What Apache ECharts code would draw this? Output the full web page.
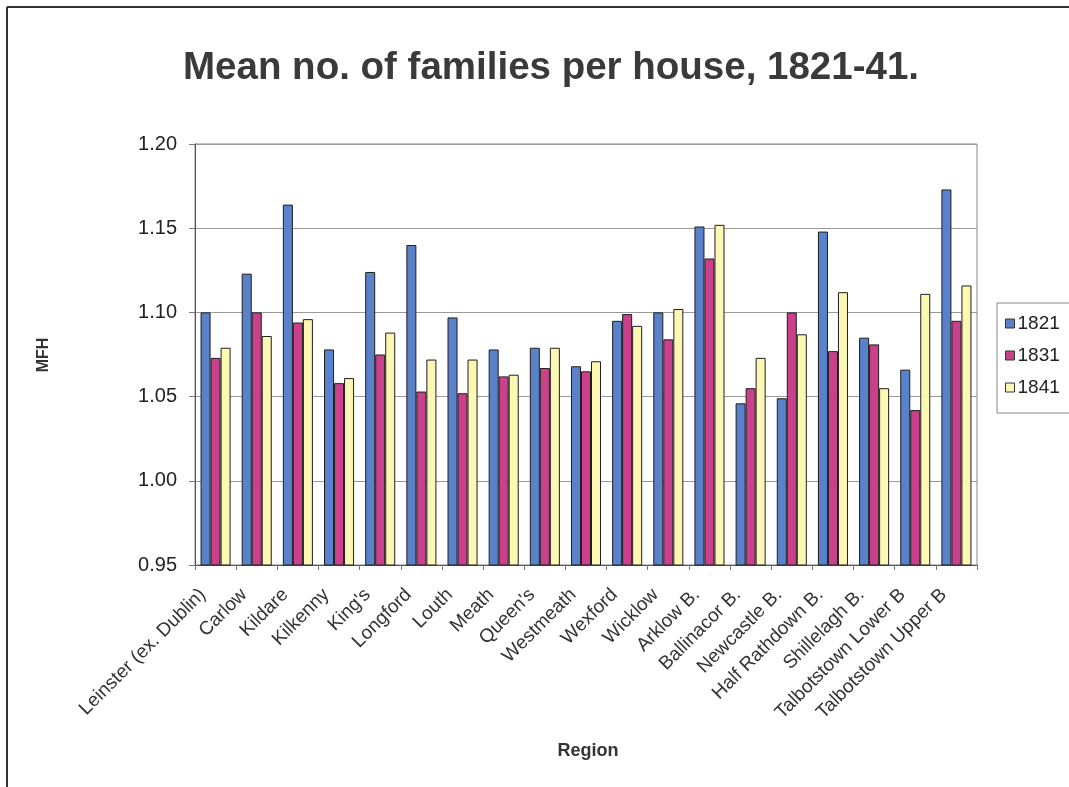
<!DOCTYPE html>
<html>
<head>
<meta charset="utf-8">
<title>Mean no. of families per house, 1821-41</title>
<script src="https://cdn.jsdelivr.net/npm/echarts@6/dist/echarts.min.js"></script>
<style>
  html, body { margin: 0; padding: 0; background: #ffffff; }
  #chart { width: 1069px; height: 787px; }
</style>
</head>
<body>
<div id="chart"></div>
<script>
// Regions of Leinster and the baronies of Co. Wicklow
const categories = [
  "Leinster (ex. Dublin)", "Carlow", "Kildare", "Kilkenny", "King's", "Longford",
  "Louth", "Meath", "Queen's", "Westmeath", "Wexford", "Wicklow", "Arklow B.",
  "Ballinacor B.", "Newcastle B.", "Half Rathdown B.", "Shillelagh B.",
  "Talbotstown Lower B", "Talbotstown Upper B"
];

// Mean number of families per house (MFH) by census year
const mfh1821 = [1.100, 1.123, 1.164, 1.078, 1.124, 1.140, 1.097, 1.078, 1.079, 1.068,
                 1.095, 1.100, 1.151, 1.046, 1.049, 1.148, 1.085, 1.066, 1.173];
const mfh1831 = [1.073, 1.100, 1.094, 1.058, 1.075, 1.053, 1.052, 1.062, 1.067, 1.065,
                 1.099, 1.084, 1.132, 1.055, 1.100, 1.077, 1.081, 1.042, 1.095];
const mfh1841 = [1.079, 1.086, 1.096, 1.061, 1.088, 1.072, 1.072, 1.063, 1.079, 1.071,
                 1.092, 1.102, 1.152, 1.073, 1.087, 1.112, 1.055, 1.111, 1.116];

const seriesNames = ["1821", "1831", "1841"];
const yTicks = { min: 0.95, max: 1.20, step: 0.05 };

const FONT = "'Liberation Sans', Arial, sans-serif";
const colors = ["#5a82ca", "#c8418a", "#fcf7b2"];

const chart = echarts.init(document.getElementById('chart'), null, { renderer: 'canvas' });

function barSeries(name, data, color) {
  return {
    name: name,
    type: 'bar',
    data: data,
    barGap: '0%',
    barCategoryGap: '27%',
    itemStyle: { color: color, borderColor: '#1e1e1e', borderWidth: 1 },
    emphasis: { disabled: true }
  };
}

chart.setOption({
  animation: false,
  backgroundColor: '#ffffff',
  textStyle: { fontFamily: FONT },
  title: {
    text: 'Mean no. of families per house, 1821-41.',
    left: 178,
    top: 44,
    textStyle: { fontFamily: FONT, fontSize: 38.5, fontWeight: 'bold', color: '#3a3a3a' }
  },
  grid: { left: 195, right: 92, top: 144, bottom: 222, show: true, borderColor: '#888', borderWidth: 1 },
  legend: {
    orient: 'vertical',
    left: 1000,
    top: 309,
    itemWidth: 9,
    itemHeight: 9,
    itemGap: 13,
    icon: 'rect',
    itemStyle: { borderColor: '#333', borderWidth: 1 },
    textStyle: { fontFamily: FONT, fontSize: 19, color: '#222', padding: [0, 0, 0, -2] },
    data: seriesNames
  },
  xAxis: {
    type: 'category',
    data: categories,
    boundaryGap: true,
    axisLine: { lineStyle: { color: '#555', width: 1 } },
    axisTick: { show: true, length: 5, alignWithLabel: false, lineStyle: { color: '#777' } },
    axisLabel: {
      interval: 0, rotate: 45, margin: 14, padding: [0, 18, 0, 0],
      fontFamily: FONT, fontSize: 19, color: '#333'
    },
    splitLine: { show: false }
  },
  yAxis: {
    type: 'value',
    min: yTicks.min,
    max: yTicks.max,
    interval: yTicks.step,
    axisLine: { show: true, lineStyle: { color: '#555', width: 1 } },
    axisTick: { show: true, length: 6, lineStyle: { color: '#777' } },
    axisLabel: {
      margin: 18, fontFamily: FONT, fontSize: 20, color: '#222',
      formatter: v => v.toFixed(2)
    },
    splitLine: { show: true, lineStyle: { color: '#9a9a9a', width: 1 } }
  },
  series: [
    barSeries(seriesNames[0], mfh1821, colors[0]),
    barSeries(seriesNames[1], mfh1831, colors[1]),
    barSeries(seriesNames[2], mfh1841, colors[2])
  ],
  graphic: [
    // outer frame: top and left edges
    { type: 'line', shape: { x1: 7, y1: 7, x2: 1069, y2: 7 }, style: { stroke: '#333', lineWidth: 2 } },
    { type: 'line', shape: { x1: 7, y1: 7, x2: 7, y2: 787 }, style: { stroke: '#333', lineWidth: 2 } },
    // legend box
    { type: 'rect', shape: { x: 997, y: 303, width: 80, height: 110 },
      style: { fill: 'none', stroke: '#888', lineWidth: 1 }, z: -1 },
    // axis titles
    { type: 'text', x: 44, y: 355, rotation: Math.PI / 2,
      style: { text: 'MFH', font: "bold 16px 'Liberation Sans', Arial, sans-serif",
               fill: '#333', align: 'center', verticalAlign: 'middle' } },
    { type: 'text', x: 588, y: 751,
      style: { text: 'Region', font: "bold 18px 'Liberation Sans', Arial, sans-serif",
               fill: '#333', align: 'center', verticalAlign: 'middle' } }
  ]
});
</script>
</body>
</html>
